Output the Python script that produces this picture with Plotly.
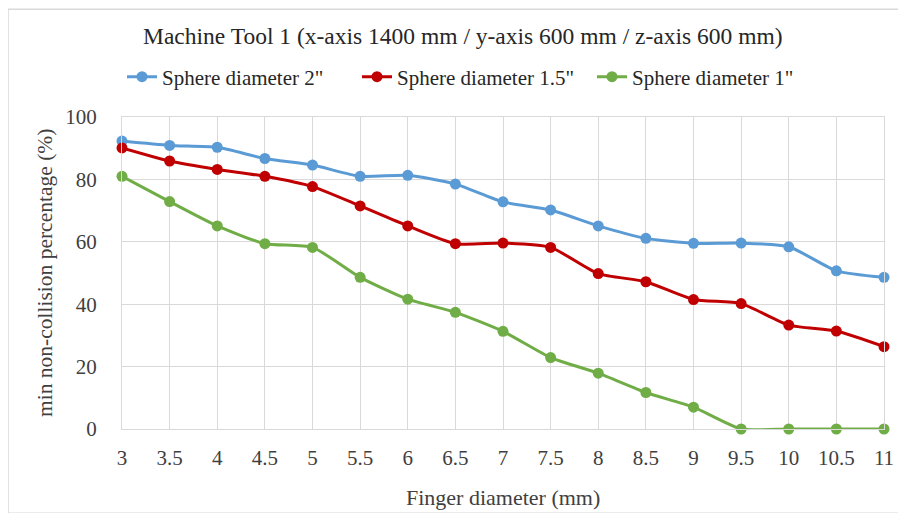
import plotly.graph_objects as go

finger_diameter = [3, 3.5, 4, 4.5, 5, 5.5, 6, 6.5, 7, 7.5, 8, 8.5, 9, 9.5, 10, 10.5, 11]
tick_labels = ["3", "3.5", "4", "4.5", "5", "5.5", "6", "6.5", "7", "7.5", "8", "8.5", "9", "9.5", "10", "10.5", "11"]
sphere_2in = [92.3, 90.9, 90.3, 86.7, 84.6, 81.0, 81.3, 78.5, 72.8, 70.2, 65.1, 61.1, 59.5, 59.6, 58.4, 50.7, 48.6]
sphere_1_5in = [90.1, 85.9, 83.2, 81.0, 77.7, 71.5, 65.1, 59.4, 59.6, 58.2, 49.8, 47.2, 41.5, 40.2, 33.3, 31.4, 26.4]
sphere_1in = [81.0, 72.9, 65.1, 59.4, 58.2, 48.6, 41.6, 37.4, 31.3, 22.9, 17.9, 11.7, 7.0, 0, 0, 0, 0]

series = [
    ('Sphere diameter 2"', sphere_2in, "#5B9BD5"),
    ('Sphere diameter 1.5"', sphere_1_5in, "#C00000"),
    ('Sphere diameter 1"', sphere_1in, "#70AD47"),
]

FONT = "Liberation Serif"
fig = go.Figure()
for name, vals, col in series:
    fig.add_trace(go.Scatter(
        x=finger_diameter, y=vals, name=name, mode="lines+markers",
        line=dict(color=col, width=3, shape="spline", smoothing=0.6),
        marker=dict(color=col, size=11),
        cliponaxis=False,
    ))

grid = "#D9D9D9"
fig.update_layout(
    width=890, height=505,
    margin=dict(l=114, r=14, t=109, b=84),
    paper_bgcolor="white", plot_bgcolor="white",
    font=dict(family=FONT, size=21, color="#404040"),
    title=dict(text="Machine Tool 1 (x-axis 1400 mm / y-axis 600 mm / z-axis 600 mm)",
               x=0.511, xanchor="center", y=0.945, yanchor="middle",
               font=dict(family=FONT, size=23.5, color="#262626")),
    legend=dict(orientation="h", x=0.0, xanchor="left", y=1.128, yanchor="middle",
                font=dict(family=FONT, size=21, color="#262626"),
                entrywidth=190, entrywidthmode="pixels", itemwidth=30, tracegroupgap=0),
    showlegend=True,
)
fig.update_xaxes(
    range=[3, 11], tickvals=finger_diameter, ticktext=tick_labels,
    showgrid=True, gridcolor=grid, gridwidth=1.3,
    showline=True, linecolor=grid, linewidth=1.3, mirror=True,
    zeroline=False, ticks="", ticklabelstandoff=10, automargin=False,
    tickfont=dict(family=FONT, size=21, color="#404040"),
)
fig.update_yaxes(
    range=[0, 100], dtick=20,
    showgrid=True, gridcolor=grid, gridwidth=1.3,
    showline=True, linecolor=grid, linewidth=1.3, mirror=True,
    zeroline=False, ticks="", ticklabelstandoff=20, automargin=False,
    tickfont=dict(family=FONT, size=21, color="#404040"),
)
# axis titles
fig.add_annotation(text="Finger diameter (mm)", xref="paper", yref="paper",
                   x=(503 - 122) / 762, y=(429 - 497) / 312, showarrow=False,
                   xanchor="center", yanchor="middle",
                   font=dict(family=FONT, size=22, color="#404040"))
fig.add_annotation(text="min non-collision percentage (%)", xref="paper", yref="paper",
                   x=(45 - 122) / 762, y=(429 - 273) / 312, showarrow=False, textangle=-90,
                   xanchor="center", yanchor="middle",
                   font=dict(family=FONT, size=21.5, color="#404040"))
# chart-area border
fig.add_shape(type="rect", xref="paper", yref="paper",
              x0=-0.1496, x1=1.04, y0=-0.27, y1=1.345,
              line=dict(color="#D9D9D9", width=1.5), layer="below")
fig.write_html("out.html")
